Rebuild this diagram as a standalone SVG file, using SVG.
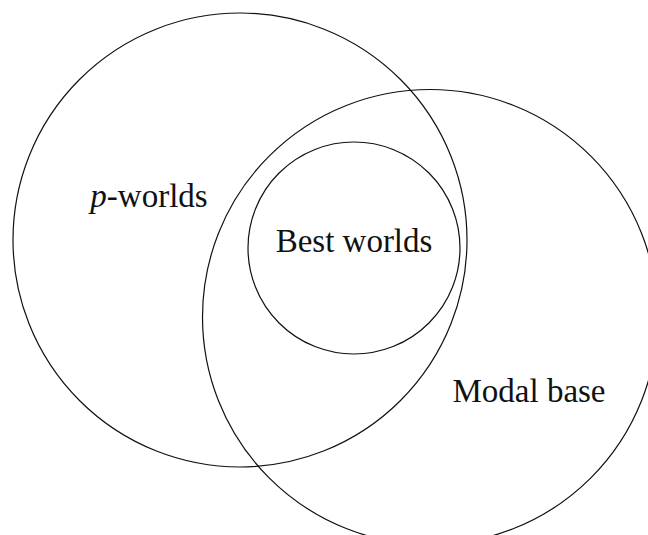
<svg xmlns="http://www.w3.org/2000/svg" width="648" height="535" viewBox="0 0 648 535">
<style>
.c{fill:none;stroke:#111;stroke-width:1.2}
.t{font-family:"Liberation Serif","DejaVu Serif",serif;font-size:33px;fill:#111;text-anchor:middle}
</style>
<rect width="648" height="535" fill="#fff"/>
<g id="p-worlds">
<circle class="c" cx="240" cy="240" r="227"/>
<text class="t" x="149" y="207"><tspan font-style="italic">p</tspan>-worlds</text>
</g>
<g id="modal-base">
<circle class="c" cx="430" cy="317" r="227.5"/>
<text class="t" x="529" y="402">Modal base</text>
</g>
<g id="best-worlds">
<circle class="c" cx="354" cy="248" r="106"/>
<text class="t" x="354" y="252">Best worlds</text>
</g>
<g id="connectors"/>
</svg>
